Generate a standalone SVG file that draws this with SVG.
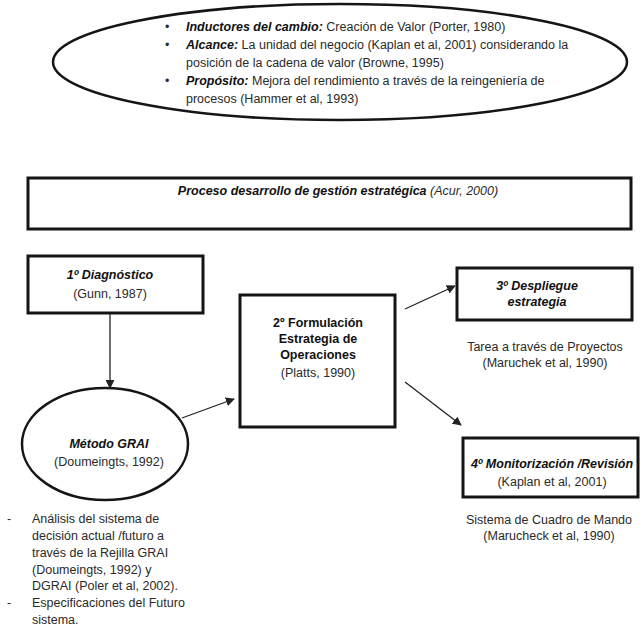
<svg xmlns="http://www.w3.org/2000/svg" width="643" height="640" viewBox="0 0 643 640">
<style>
text{font-family:"Liberation Sans",Arial,sans-serif;font-size:12.5px;fill:#2a2a2a}
.bi{font-weight:bold;font-style:italic;fill:#111}
.b{font-weight:bold;fill:#111}
.i{font-style:italic}
.c{text-anchor:middle}
.box{fill:#fff;stroke:#151515;stroke-width:3}
.ell{fill:#fff;stroke:#151515;stroke-width:2.5}
.con{stroke:#222;stroke-width:1.3;fill:none;marker-end:url(#ah)}
</style>
<defs>
<marker id="ah" viewBox="0 0 10 10" refX="9" refY="5" markerWidth="9" markerHeight="9" markerUnits="userSpaceOnUse" orient="auto">
<path d="M0,0 L10,5 L0,10 z" fill="#222"/>
</marker>
</defs>
<rect width="643" height="640" fill="#fff"/>
<g id="contexto">
<ellipse class="ell" cx="340" cy="62" rx="287" ry="58"/>
<text x="165" y="31">•</text>
<text x="186" y="31"><tspan class="bi">Inductores del cambio:</tspan> Creación de Valor (Porter, 1980)</text>
<text x="165" y="49">•</text>
<text x="186" y="49"><tspan class="bi">Alcance:</tspan> La unidad del negocio (Kaplan et al, 2001) considerando la</text>
<text x="186" y="67">posición de la cadena de valor (Browne, 1995)</text>
<text x="165" y="85">•</text>
<text x="186" y="85"><tspan class="bi">Propósito:</tspan> Mejora del rendimiento a través de la reingeniería de</text>
<text x="186" y="103">procesos (Hammer et al, 1993)</text>
</g>
<g id="proceso">
<rect class="box" x="28" y="178" width="603" height="51"/>
<text class="c i" x="338" y="195"><tspan class="bi">Proceso desarrollo de gestión estratégica</tspan> (Acur, 2000)</text>
</g>
<g id="diagnostico">
<rect class="box" x="28" y="256" width="175" height="57"/>
<text class="c bi" x="110" y="279">1º Diagnóstico</text>
<text class="c" x="110" y="298">(Gunn, 1987)</text>
</g>
<g id="grai">
<ellipse class="ell" cx="105" cy="444" rx="83" ry="56"/>
<text class="c bi" x="109" y="448">Método GRAI</text>
<text class="c" x="109" y="466">(Doumeingts, 1992)</text>
</g>
<g id="grai-notas">
<text x="7" y="523">-</text>
<text x="32" y="523">Análisis del sistema de</text>
<text x="32" y="540">decisión actual /futuro a</text>
<text x="32" y="557">través de la Rejilla GRAI</text>
<text x="32" y="573.5">(Doumeingts, 1992) y</text>
<text x="32" y="590">DGRAI (Poler et al, 2002).</text>
<text x="7" y="607">-</text>
<text x="32" y="607">Especificaciones del Futuro</text>
<text x="32" y="624">sistema.</text>
</g>
<g id="formulacion">
<rect class="box" x="240" y="295" width="155" height="132"/>
<text class="c b" x="318" y="327">2º Formulación</text>
<text class="c b" x="318" y="343">Estrategia de</text>
<text class="c b" x="318" y="359">Operaciones</text>
<text class="c" x="318" y="377">(Platts, 1990)</text>
</g>
<g id="despliegue">
<rect class="box" x="457" y="268" width="175" height="52"/>
<text class="c bi" x="537" y="290">3º Despliegue</text>
<text class="c bi" x="537" y="306">estrategia</text>
<text class="c" x="545" y="351">Tarea a través de Proyectos</text>
<text class="c" x="545" y="367">(Maruchek et al, 1990)</text>
</g>
<g id="monitorizacion">
<rect class="box" x="463" y="438" width="175" height="59"/>
<text class="c bi" x="552" y="468">4º Monitorización /Revisión</text>
<text class="c" x="552" y="486">(Kaplan et al, 2001)</text>
<text class="c" x="549" y="524">Sistema de Cuadro de Mando</text>
<text class="c" x="549" y="540">(Marucheck et al, 1990)</text>
</g>
<g id="connectors">
<line class="con" x1="110" y1="313" x2="110" y2="388"/>
<line class="con" x1="182" y1="418" x2="234" y2="399"/>
<line class="con" x1="405" y1="309" x2="455" y2="286"/>
<line class="con" x1="405" y1="382" x2="461" y2="425"/>
</g>
</svg>
